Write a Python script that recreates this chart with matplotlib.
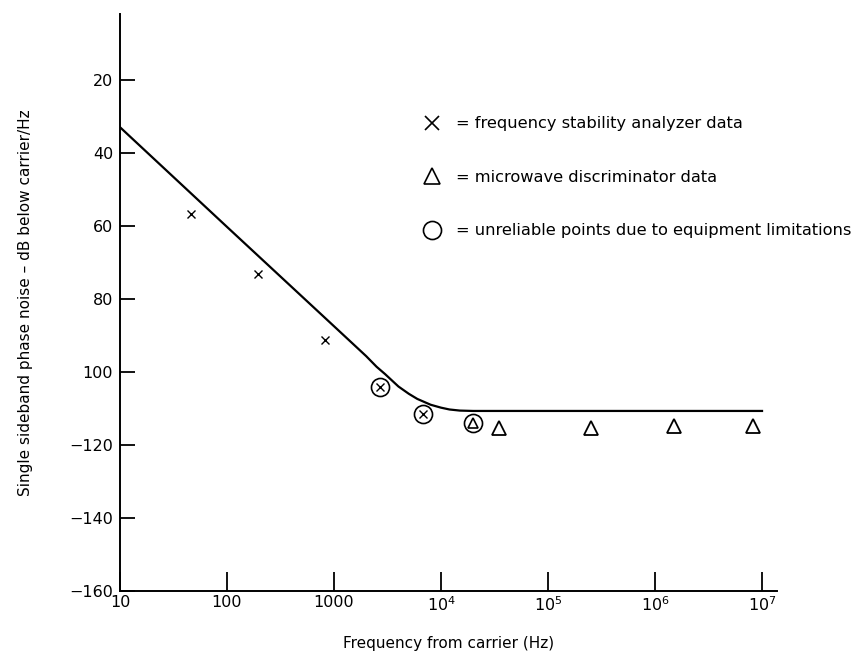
import matplotlib
matplotlib.use("Agg")
import matplotlib.pyplot as plt
from matplotlib.lines import Line2D

# fitted curve
curve_freq = [10, 100, 1000, 2000, 2500, 3000, 4000, 5000, 6000, 8000, 10000, 12000, 15000, 20000, 1e7]
curve_db = [-33, -60.3, -87.5, -95.7, -98.6, -100.6, -104.0, -106.0, -107.4, -109.0, -109.8,
            -110.3, -110.6, -110.7, -110.7]

# frequency stability analyzer data (x)
fsa_freq = [46, 193, 822]
fsa_db = [-56.8, -73.2, -91.3]

# unreliable analyzer points (circled x)
bad_x_freq = [2700, 6800]
bad_x_db = [-104.2, -111.6]

# microwave discriminator data (triangles)
mwd_freq = [35000, 250000, 1.5e6, 8.3e6]
mwd_db = [-115.5, -115.5, -114.7, -114.7]

# unreliable discriminator point (circled triangle)
bad_t_freq = [20000]
bad_t_db = [-114.1]

xticks = [10, 100, 1000, 1e4, 1e5, 1e6, 1e7]
xtick_labels = ["10", "100", "1000", r"$\mathregular{10^4}$", r"$\mathregular{10^5}$",
                r"$\mathregular{10^6}$", r"$\mathregular{10^7}$"]
yticks = [-20, -40, -60, -80, -100, -120, -140, -160]
ytick_labels = ["20", "40", "60", "80", "100", "\u2212120", "\u2212140", "\u2212160"]

plt.rcParams['font.family'] = ['DejaVu Sans']

fig = plt.figure(figsize=(8.6, 6.59), dpi=100)
ax = fig.add_axes([0.1395, 0.1032, 0.764, 0.8756])

ax.plot(curve_freq, curve_db, color='black', lw=1.6)
ax.plot(fsa_freq, fsa_db, ls='none', marker='x', ms=6, mew=1.0, color='black')
ax.plot(bad_x_freq, bad_x_db, ls='none', marker='x', ms=6, mew=1.0, color='black')
ax.plot(bad_x_freq, bad_x_db, ls='none', marker='o', ms=13, mew=1.2, mfc='none', mec='black')
ax.plot(mwd_freq, mwd_db, ls='none', marker='^', ms=10, mew=1.3, mfc='none', mec='black')
ax.plot(bad_t_freq, bad_t_db, ls='none', marker='^', ms=7, mew=1.2, mfc='none', mec='black')
ax.plot(bad_t_freq, bad_t_db, ls='none', marker='o', ms=13, mew=1.2, mfc='none', mec='black')

ax.set_xscale('log')
ax.set_xlim(10, 10 ** 7.14)
ax.set_ylim(-160, -2)
ax.set_xticks(xticks)
ax.set_xticklabels(xtick_labels)
ax.minorticks_off()
ax.set_yticks(yticks)
ax.set_yticklabels(ytick_labels)

ax.spines['top'].set_visible(False)
ax.spines['right'].set_visible(False)
for s in ['left', 'bottom']:
    ax.spines[s].set_linewidth(1.4)

ax.tick_params(axis='y', direction='in', length=11, width=1.3, pad=5, labelsize=11.5)
ax.tick_params(axis='x', direction='in', length=14, width=1.3, pad=3, labelsize=11.5)

ax.set_xlabel("Frequency from carrier (Hz)", fontsize=11, labelpad=16)
ax.set_ylabel("Single sideband phase noise \u2013 dB below carrier/Hz", fontsize=11, labelpad=26)

handles = [
    Line2D([], [], ls='none', marker='x', ms=10, mew=1.2, color='black'),
    Line2D([], [], ls='none', marker='^', ms=11, mew=1.2, mfc='none', mec='black'),
    Line2D([], [], ls='none', marker='o', ms=13, mew=1.2, mfc='none', mec='black'),
]
labels = ["= frequency stability analyzer data",
          "= microwave discriminator data",
          "= unreliable points due to equipment limitations"]
ax.legend(handles, labels, loc='upper left', bbox_to_anchor=(0.452, 0.834),
          frameon=False, fontsize=11.7, labelspacing=2.37, handlelength=1.0,
          handletextpad=1.0, borderaxespad=0)

fig.savefig("out.png", dpi=100)
